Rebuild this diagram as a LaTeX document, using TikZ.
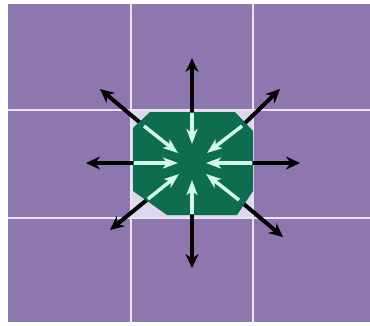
\documentclass[tikz,border=0pt]{standalone}
\usetikzlibrary{arrows.meta}
\definecolor{cellpurple}{HTML}{8E77AE}
\definecolor{gridline}{HTML}{E8E2F2}
\definecolor{centercell}{HTML}{DCD7EA}
\definecolor{octgreen}{HTML}{0E6D4E}
\definecolor{paleArrow}{HTML}{D4F7EC}
\begin{document}
\begin{tikzpicture}[x=1pt,y=-1pt,
  outarrow/.style={draw=black,line width=4pt,-{Stealth[length=14pt,width=13pt]}},
  inarrow/.style={draw=paleArrow,line width=3.5pt,-{Stealth[length=15pt,width=11pt,inset=4pt]}},
  gridrule/.style={draw=gridline,line width=1.6pt}]
\useasboundingbox (0,0) rectangle (370,325);
\fill[white] (0,0) rectangle (370,325);
% purple field
\fill[cellpurple] (8,4) rectangle (370,322);
% centre cell
\fill[centercell] (131,110) rectangle (253,218);
% grid lines
\draw[gridrule] (131,4) -- (131,322);
\draw[gridrule] (253,4) -- (253,322);
\draw[gridrule] (8,110) -- (370,110);
\draw[gridrule] (8,218) -- (370,218);
% named coordinates
\coordinate (c) at (192,163);
\coordinate (nS) at (192,113); \coordinate (nT) at (192,58);
\coordinate (sS) at (192,214); \coordinate (sT) at (192,268);
\coordinate (wS) at (134,163); \coordinate (wT) at (86,163);
\coordinate (eS) at (252,163); \coordinate (eT) at (300,163);
\coordinate (nwS) at (144,126); \coordinate (nwT) at (100,89);
\coordinate (neS) at (242,126); \coordinate (neT) at (280,89);
\coordinate (swS) at (148,199); \coordinate (swT) at (110,230);
\coordinate (seS) at (239,200); \coordinate (seT) at (283,237);
% black outward arrows
\foreach \d in {n,s,w,e,nw,ne,sw,se}
  \draw[outarrow] (\d S) -- (\d T);
% green octagon
\fill[octgreen] (150,112) -- (235,112) -- (253,131) -- (253,191) -- (237,215)
  -- (167,215) -- (133,191) -- (133,128) -- cycle;
% pale inward arrows
\coordinate (nI) at (192,144);
\coordinate (sI) at (192,180);
\coordinate (wI) at (178,163);
\coordinate (eI) at (206,163);
\coordinate (nwI) at (178,153);
\coordinate (neI) at (207,153);
\coordinate (swI) at (179,174);
\coordinate (seI) at (206,174);
\foreach \d in {n,s,w,e,nw,ne,sw,se}
  \draw[inarrow] (\d S) -- (\d I);
\end{tikzpicture}
\end{document}
